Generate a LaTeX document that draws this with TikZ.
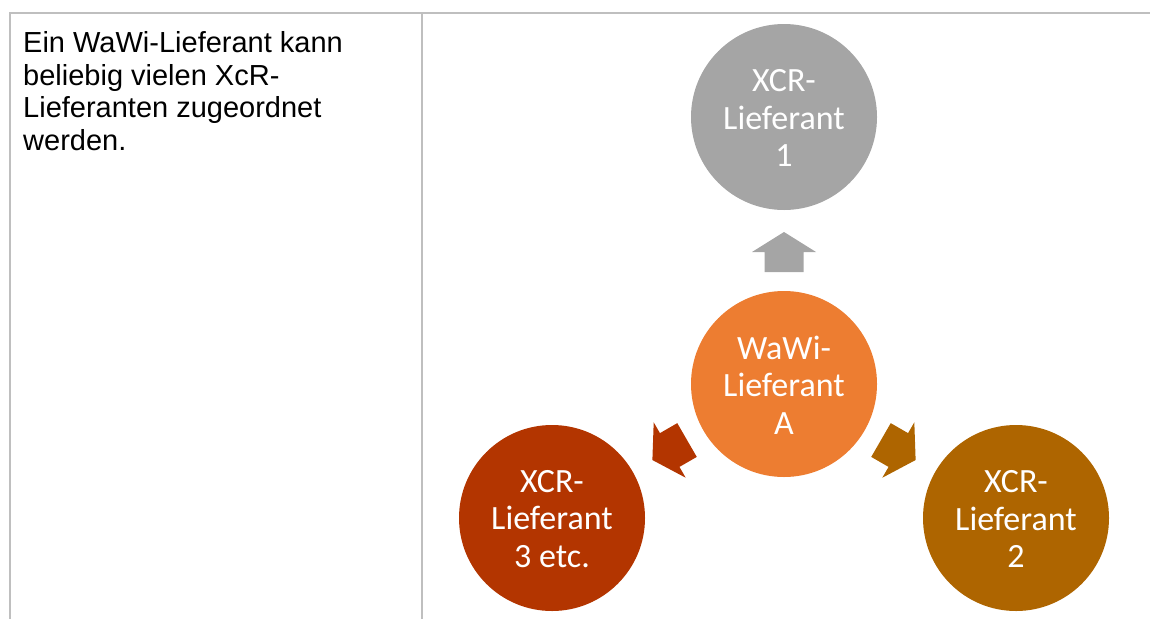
\documentclass[tikz,border=0pt]{standalone}
\usepackage{fontspec}
\setmainfont{Liberation Sans}
\newfontfamily\circfont{Carlito}
\usetikzlibrary{calc}
\definecolor{rulegray}{HTML}{BFBFBF}
\definecolor{cgray}{HTML}{A5A5A5}
\definecolor{corange}{HTML}{ED7D31}
\definecolor{cred}{HTML}{B33500}
\definecolor{cbrown}{HTML}{AE6500}
\tikzset{
  tablerule/.style={draw=rulegray, line width=1.5pt},
  circ/.style={circle, minimum size=186pt, inner sep=0pt, fill=#1, draw=none},
  ctext/.style={text=white, align=center, inner sep=0pt, font=\circfont\fontsize{34}{37.5}\selectfont},
  ltext/.style={anchor=base west, inner sep=0pt, font=\fontsize{29}{33}\selectfont},
}
\newcommand\blockarr[3]{%
  \fill[#3]
    ($(#1)!152pt!(#2)$) coordinate (tip)
    -- ($($(#1)!132pt!(#2)$)!32pt!90:(#2)$)
    -- ($($(#1)!132pt!(#2)$)!19.5pt!90:(#2)$)
    -- ($($(#1)!112pt!(#2)$)!19.5pt!90:(#2)$)
    -- ($($(#1)!112pt!(#2)$)!19.5pt!-90:(#2)$)
    -- ($($(#1)!132pt!(#2)$)!19.5pt!-90:(#2)$)
    -- ($($(#1)!132pt!(#2)$)!32pt!-90:(#2)$)
    -- cycle;}
\begin{document}
\begin{tikzpicture}[x=1pt,y=-1pt]
\useasboundingbox (0,0) rectangle (1150,619);
% table rules
\coordinate (tl) at (9,13);
\coordinate (tr) at (1150,13);
\coordinate (lt) at (10,13);
\coordinate (lb) at (10,619);
\coordinate (mt) at (422,13);
\coordinate (mb) at (422,619);
\draw[tablerule] (tl) -- (tr);
\draw[tablerule] (lt) -- (lb);
\draw[tablerule] (mt) -- (mb);
% left text
\node[ltext] (l1) at (23,52.5) {Ein WaWi-Lieferant kann};
\node[ltext] (l2) at (23,85) {beliebig vielen XcR-};
\node[ltext] (l3) at (23,117.5) {Lieferanten zugeordnet};
\node[ltext] (l4) at (23,150) {werden.};
% circles
\node[circ=corange] (A) at (784,384) {};
\node[circ=cgray] (S1) at (784,117) {};
\node[circ=cred] (S3) at (552,518) {};
\node[circ=cbrown] (S2) at (1016,518) {};
\node[ctext] (At) at ([yshift=-1pt]A.center) {WaWi-\\Lieferant\\A};
\node[ctext] (S1t) at ([yshift=-1pt]S1.center) {XCR-\\Lieferant\\1};
\node[ctext] (S3t) at ([yshift=-1pt]S3.center) {XCR-\\Lieferant\\3 etc.};
\node[ctext] (S2t) at ([yshift=-1pt]S2.center) {XCR-\\Lieferant\\2};
% arrows
\blockarr{A}{S1}{cgray}
\blockarr{A}{S3}{cred}
\blockarr{A}{S2}{cbrown}
\end{tikzpicture}
\end{document}
